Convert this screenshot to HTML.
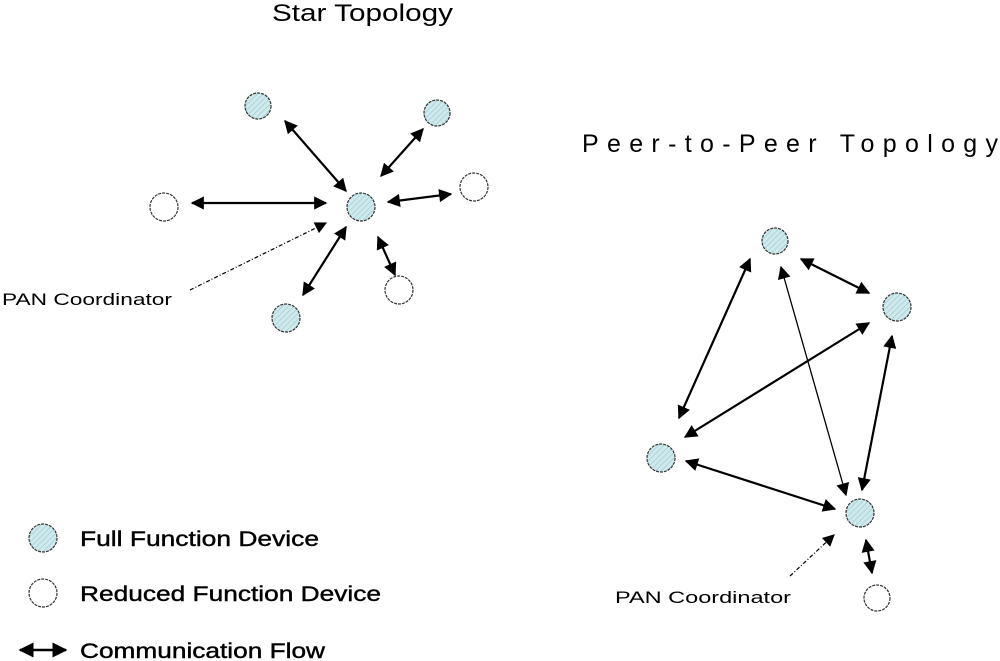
<!DOCTYPE html>
<html><head><meta charset="utf-8"><style>
html,body{margin:0;padding:0;background:#fff;}
svg{display:block;font-family:"Liberation Sans",Arial,sans-serif;}
</style></head><body>
<svg width="1000" height="661" viewBox="0 0 1000 661" xmlns="http://www.w3.org/2000/svg">
<defs>
<marker id="a" viewBox="0 0 10 10" refX="9" refY="5" markerWidth="6.5" markerHeight="6" orient="auto-start-reverse" markerUnits="strokeWidth"><path d="M0,0 L10,5 L0,10 z" fill="#000"/></marker>
<marker id="b" viewBox="0 0 10 10" refX="9" refY="5" markerWidth="11" markerHeight="10" orient="auto-start-reverse" markerUnits="strokeWidth"><path d="M0,0 L10,5 L0,10 z" fill="#000"/></marker>
<pattern id="h" width="4" height="4" patternUnits="userSpaceOnUse" patternTransform="rotate(45)"><rect width="4" height="4" fill="#cfe9ec"/><line x1="0" y1="0" x2="0" y2="4" stroke="#9fcfd6" stroke-width="1.5"/></pattern>
</defs>
<text x="272" y="21" font-size="24" textLength="181" lengthAdjust="spacingAndGlyphs">Star Topology</text>
<text x="582" y="152" font-size="25" textLength="416" lengthAdjust="spacing">Peer-to-Peer Topology</text>
<g stroke="#000" stroke-width="2.2" fill="none">
<line x1="192" y1="203" x2="326" y2="203" marker-start="url(#a)" marker-end="url(#a)"/>
<line x1="285" y1="121" x2="346" y2="191" marker-start="url(#a)" marker-end="url(#a)"/>
<line x1="423" y1="129" x2="381" y2="176" marker-start="url(#a)" marker-end="url(#a)"/>
<line x1="388" y1="202" x2="451" y2="194" marker-start="url(#a)" marker-end="url(#a)"/>
<line x1="346" y1="227" x2="303" y2="295" marker-start="url(#a)" marker-end="url(#a)"/>
<line x1="378" y1="237" x2="395" y2="275" marker-start="url(#a)" marker-end="url(#a)"/>
<line x1="801" y1="259" x2="869" y2="293" marker-start="url(#a)" marker-end="url(#a)"/>
<line x1="750" y1="259" x2="679" y2="418" marker-start="url(#a)" marker-end="url(#a)"/>
<line x1="869" y1="323" x2="685" y2="437" marker-start="url(#a)" marker-end="url(#a)"/>
<line x1="892" y1="336" x2="862" y2="490" marker-start="url(#a)" marker-end="url(#a)"/>
<line x1="686" y1="461" x2="835" y2="509" marker-start="url(#a)" marker-end="url(#a)"/>
<line x1="866" y1="540" x2="872" y2="573" marker-start="url(#a)" marker-end="url(#a)"/>
</g>
<line x1="781" y1="267" x2="846" y2="495" stroke="#000" stroke-width="1.3" marker-start="url(#b)" marker-end="url(#b)"/>
<line x1="190" y1="290" x2="326" y2="223" stroke="#000" stroke-width="1.2" stroke-dasharray="4,2,1,2" marker-end="url(#b)"/>
<line x1="790" y1="576" x2="834" y2="535" stroke="#000" stroke-width="1.2" stroke-dasharray="4,2,1,2" marker-end="url(#b)"/>
<g stroke="#333" stroke-width="1.2" stroke-dasharray="3,1">
<circle cx="361" cy="207" r="14" fill="url(#h)"/>
<circle cx="258" cy="106" r="13" fill="url(#h)"/>
<circle cx="437" cy="113" r="13" fill="url(#h)"/>
<circle cx="164" cy="207" r="14" fill="#fff"/>
<circle cx="474" cy="187" r="14" fill="#fff"/>
<circle cx="286" cy="318" r="14" fill="url(#h)"/>
<circle cx="399" cy="290" r="14" fill="#fff"/>
<circle cx="775" cy="241" r="13" fill="url(#h)"/>
<circle cx="897" cy="307" r="14" fill="url(#h)"/>
<circle cx="661" cy="458" r="14" fill="url(#h)"/>
<circle cx="860" cy="513" r="14" fill="url(#h)"/>
<circle cx="877" cy="598" r="13" fill="#fff"/>
<circle cx="43" cy="538" r="14" fill="url(#h)"/>
<circle cx="43" cy="593" r="14" fill="#fff"/>
</g>
<text x="2" y="305" font-size="17" textLength="170" lengthAdjust="spacingAndGlyphs">PAN Coordinator</text>
<text x="615" y="603" font-size="17" textLength="176" lengthAdjust="spacingAndGlyphs">PAN Coordinator</text>
<line x1="20" y1="650" x2="66" y2="650" stroke="#000" stroke-width="2.5" marker-start="url(#a)" marker-end="url(#a)"/>
<g stroke="#000" stroke-width="0.4">
<text x="80" y="546" font-size="21" textLength="239" lengthAdjust="spacingAndGlyphs">Full Function Device</text>
<text x="80" y="601" font-size="21" textLength="301" lengthAdjust="spacingAndGlyphs">Reduced Function Device</text>
<text x="80" y="658" font-size="21" textLength="245" lengthAdjust="spacingAndGlyphs">Communication Flow</text>
</g>
</svg>
</body></html>
